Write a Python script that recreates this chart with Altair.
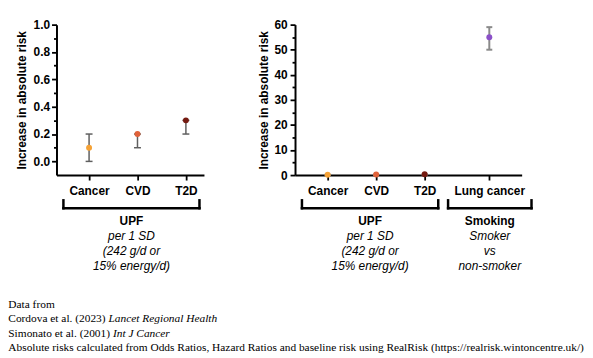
import altair as alt
import pandas as pd

# ---------------- data ----------------
categories = ["Cancer", "CVD", "T2D", "Lung cancer"]
exposure = ["UPF", "UPF", "UPF", "Smoking"]
risk_increase = [0.1, 0.2, 0.3, 55.0]
ci_lower = [0.0, 0.1, 0.2, 50.0]
ci_upper = [0.2, 0.2, 0.3, 59.0]
point_colors = ["#F5A236", "#E0623A", "#741A10", "#8B50C8"]

exposure_names = ["UPF", "Smoking"]
exposure_notes = ["per 1 SD\n(242 g/d or\n15% energy/d)", "Smoker\nvs\nnon-smoker"]

left_major = [0.0, 0.2, 0.4, 0.6, 0.8, 1.0]
left_minor = [0.1, 0.3, 0.5, 0.7, 0.9]
right_major = [0, 10, 20, 30, 40, 50, 60]
right_minor = [5, 15, 25, 35, 45, 55]

footer_plain = [
    "Data from",
    "Cordova et al. (2023) ",
    "Simonato et al. (2001) ",
    "Absolute risks calculated from Odds Ratios, Hazard Ratios and baseline risk using RealRisk (https://realrisk.wintoncentre.uk/)",
]
footer_italic = ["", "Lancet Regional Health", "Int J Cancer", ""]

# ---------------- layout constants ----------------
FONT = "Liberation Sans"
SERIF = "Liberation Serif"
U = 49.0            # px per category step
XMIN = 0.327
H = 152
GROUP_GAP = 0.333
BR_PAD = {"UPF": (0.53, 0.28), "Smoking": (0.85, 0.87)}
FOOT_SIZE = 11.5
FOOT_X = -48.7
FOOT_Y0 = 286
FOOT_DY = 14.7

# Times/Liberation Serif advance widths (per 1000 em) for prefix measuring
TW = {" ": 250, "(": 333, ")": 333, ".": 250, "C": 667, "S": 556, "D": 722}
for ch in "0123456789":
    TW[ch] = 500
TW.update({"a": 444, "b": 500, "c": 444, "d": 500, "e": 444, "f": 333, "g": 500,
           "h": 500, "i": 278, "l": 278, "m": 778, "n": 500, "o": 500, "r": 333,
           "s": 389, "t": 278, "u": 500, "v": 500})


def text_w(s):
    return sum(TW.get(ch, 500) for ch in s) * FOOT_SIZE / 1000.0


df = pd.DataFrame({
    "category": categories,
    "exposure": exposure,
    "value": risk_increase,
    "lo": ci_lower,
    "hi": ci_upper,
})
df["pos"] = [i + 1 + GROUP_GAP * exposure_names.index(g) for i, g in enumerate(exposure)]

br_rows = []
for name, note in zip(exposure_names, exposure_notes):
    p = df.loc[df["exposure"] == name, "pos"]
    a = p.min() - BR_PAD[name][0]
    b = p.max() + BR_PAD[name][1]
    br_rows.append({"name": name, "note": note, "bx1": a, "bx2": b, "bxc": (a + b) / 2})
br = pd.DataFrame(br_rows)

fdf = pd.DataFrame({"plain": footer_plain, "italic": footer_italic})
fdf["i"] = range(len(fdf))
fdf["xi"] = [FOOT_X + text_w(s) for s in footer_plain]


def panel(sub, brs, xmax, ymin, ymax, major, minor, fmt, title_x, label_pad,
          bar_color, bar_width, cap_px, footer=False):
    width = round((xmax - XMIN) * U)
    xsc = alt.Scale(domain=[XMIN, xmax], nice=False, zero=False)
    ysc = alt.Scale(domain=[ymin, ymax], nice=False, zero=False)
    lab = "".join(
        f"abs(datum.value-{p:.4f})<0.01?'{c}':" for p, c in zip(sub["pos"], sub["category"])
    ) + "''"
    xaxis = alt.Axis(values=[float(v) for v in sub["pos"]], labelExpr=lab, title=None,
                     grid=False, tickSize=5, tickWidth=1.8, tickColor="black",
                     domainColor="black", domainWidth=2, labelPadding=6, labelFont=FONT,
                     labelFontSize=12, labelFontWeight="bold", labelColor="black",
                     labelOverlap=False, labelFlush=False)
    yaxis_major = alt.Axis(orient="left", values=major, format=fmt,
                           title="Increase in absolute risk", grid=False, tickSize=5,
                           tickWidth=1.8, tickColor="black", domainColor="black",
                           domainWidth=2, labelPadding=label_pad, labelFont=FONT,
                           labelFontSize=12, labelFontWeight="bold", labelColor="black",
                           labelOverlap=False, labelFlush=False, titleFont=FONT,
                           titleFontSize=12, titleFontWeight="bold", titleColor="black",
                           titleX=title_x, titleY=H / 2, titleAngle=-90,
                           titleAlign="center", titleBaseline="middle")
    yaxis_minor = alt.Axis(orient="left", values=minor, labels=False, domain=False,
                           title=None, grid=False, tickSize=3, tickWidth=1.8,
                           tickColor="black")
    base = alt.Chart(sub)
    x = alt.X("pos:Q", scale=xsc, axis=xaxis)
    bars = base.mark_rule(color=bar_color, strokeWidth=bar_width).encode(
        x=x, y=alt.Y("lo:Q", scale=ysc, axis=yaxis_minor), y2="hi:Q")
    half = cap_px / 2 / U
    caps = base.transform_fold(["lo", "hi"], as_=["end", "yv"]).transform_calculate(
        xa=f"datum.pos-{half}", xb=f"datum.pos+{half}"
    ).mark_rule(color=bar_color, strokeWidth=bar_width).encode(
        x=alt.X("xa:Q", scale=xsc, axis=xaxis), x2="xb:Q",
        y=alt.Y("yv:Q", scale=ysc, axis=None))
    dots = base.mark_circle(size=36, opacity=1).encode(
        x=x, y=alt.Y("value:Q", scale=ysc, axis=yaxis_major),
        color=alt.Color("category:N", scale=alt.Scale(domain=categories, range=point_colors),
                        legend=None))
    bb = alt.Chart(brs)
    rule_kw = dict(color="black", strokeWidth=2.5, strokeCap="square")
    hline = bb.mark_rule(**rule_kw).encode(
        x=alt.X("bx1:Q", scale=xsc, axis=xaxis), x2="bx2:Q", y=alt.value(185.5))
    vl = bb.mark_rule(**rule_kw).encode(
        x=alt.X("bx1:Q", scale=xsc, axis=xaxis), y=alt.value(177.5), y2=alt.value(185.5))
    vr = bb.mark_rule(**rule_kw).encode(
        x=alt.X("bx2:Q", scale=xsc, axis=xaxis), y=alt.value(177.5), y2=alt.value(185.5))
    names = bb.mark_text(font=FONT, fontSize=12, fontWeight="bold", color="black",
                         baseline="middle", align="center").encode(
        x=alt.X("bxc:Q", scale=xsc, axis=xaxis), y=alt.value(198), text="name:N")
    notes = bb.mark_text(font=FONT, fontSize=12, fontStyle="italic", color="black",
                         baseline="middle", align="center", lineBreak="\n",
                         lineHeight=15).encode(
        x=alt.X("bxc:Q", scale=xsc, axis=xaxis), y=alt.value(213.5), text="note:N")
    layers = [bars, caps, dots, hline, vl, vr, names, notes]
    if footer:
        fb = alt.Chart(fdf).transform_calculate(yb=f"{FOOT_Y0}+{FOOT_DY}*datum.i")
        plain = fb.mark_text(align="left", baseline="alphabetic", font=SERIF,
                             fontSize=FOOT_SIZE, color="black").encode(
            x=alt.value(FOOT_X), y=alt.Y("yb:Q", scale=None, axis=None), text="plain:N")
        ital = fb.mark_text(align="left", baseline="alphabetic", font=SERIF,
                            fontSize=FOOT_SIZE, fontStyle="italic", color="black").encode(
            x=alt.X("xi:Q", scale=None, axis=None), y=alt.Y("yb:Q", scale=None, axis=None),
            text="italic:N")
        layers += [plain, ital]
    return alt.layer(*layers).resolve_axis(y="independent").properties(width=width, height=H)


left = panel(df[df["exposure"] == "UPF"], br[br["name"] == "UPF"], 3.373, -0.1, 1.0,
             left_major, left_minor, ".1f", -35.8, 2, "#5f5f5f", 1.5, 7, footer=True)
right = panel(df, br, 5.0, 0, 60, right_major, right_minor, "d", -32.2, 3,
              "#8a8a8a", 2, 6)

chart = alt.hconcat(left, right, spacing=92, bounds="flush").properties(
    padding={"left": 0, "top": 9, "right": 0, "bottom": 0}, background="white"
).configure_view(stroke=None)

chart.save("out.html", embed_options={"renderer": "svg", "actions": False})
